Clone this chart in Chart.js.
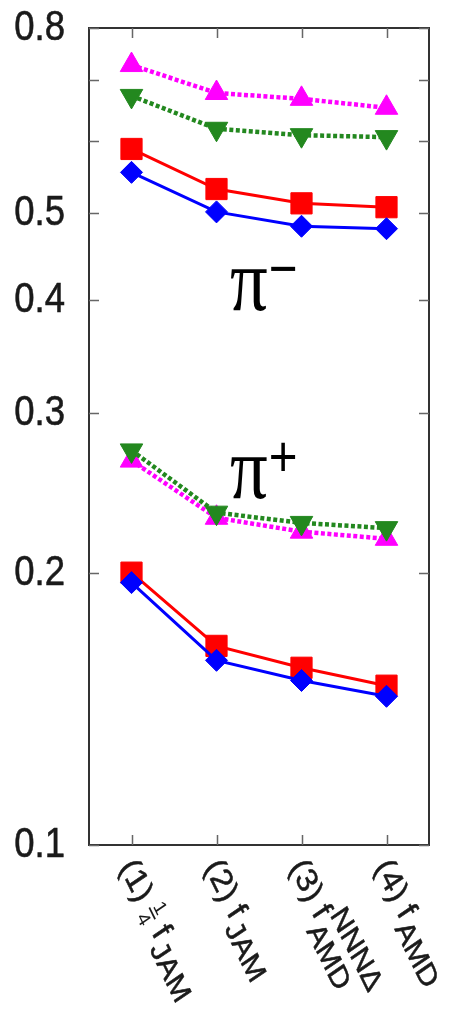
<!DOCTYPE html>
<html>
<head>
<meta charset="utf-8">
<script src="https://cdn.jsdelivr.net/npm/chart.js@4.4.0/dist/chart.umd.min.js"></script>
<style>
  html, body { margin: 0; padding: 0; background: #fff; }
  #wrap { position: relative; width: 457px; height: 1012px; }
</style>
</head>
<body>
<div id="wrap"><canvas id="chart"></canvas></div>
<script>
const categories = ['(1) 1/4 f_JAM', '(2) f_JAM', '(3) f_AMD^NNNΔ', '(4) f_AMD'];

// rich versions of the category labels (fraction, sub/superscripts)
const xTickLabels = [
  [{ t: '(1) ' }, { frac: ['1', '4'] }, { t: ' f' }, { sub: 'JAM' }],
  [{ t: '(2) f' }, { sub: 'JAM' }],
  [{ t: '(3) f' }, { sup: 'NNNΔ', sub: 'AMD' }],
  [{ t: '(4) f' }, { sub: 'AMD' }],
];

const yTicks = [0.1, 0.2, 0.3, 0.4, 0.5, 0.6, 0.7, 0.8];
const yTickLabels = ['0.1', '0.2', '0.3', '0.4', '0.5', '', '', '0.8'];

// pi-minus
const piMinusMagenta = [0.728, 0.678, 0.668, 0.653];
const piMinusGreen = [0.673, 0.619, 0.609, 0.606];
const piMinusRed = [0.588, 0.531, 0.512, 0.507];
const piMinusBlue = [0.554, 0.501, 0.483, 0.480];
// pi-plus
const piPlusGreen = [0.273, 0.233, 0.227, 0.224];
const piPlusMagenta = [0.266, 0.230, 0.222, 0.218];
const piPlusRed = [0.200, 0.166, 0.157, 0.150];
const piPlusBlue = [0.195, 0.160, 0.152, 0.146];

// in-plot particle labels, anchored in data units (category index, value)
const particleLabels = [
  { sym: 'π', sup: '−', cat: 1.16, value: 0.390 },
  { sym: 'π', sup: '+', cat: 1.16, value: 0.2418 },
];

const MAGENTA = '#ff00ff';
const GREEN = '#23881f';
const RED = '#ff0000';
const BLUE = '#0000ff';
const SANS = '"Liberation Sans", Arial, Helvetica, sans-serif';
const SERIF = '"Liberation Serif", "Times New Roman", serif';
const SQUASH = 0.85;

function dashed(data, color, style, rotation) {
  return {
    data,
    borderColor: color,
    backgroundColor: color,
    borderWidth: 4.5,
    borderDash: [4, 2.5],
    pointStyle: style,
    pointRotation: rotation || 0,
    pointRadius: 13,
    pointBackgroundColor: color,
    pointBorderColor: color,
    pointBorderWidth: 1,
    fill: false,
    tension: 0,
  };
}

function solid(data, color, style, radius) {
  return {
    data,
    borderColor: color,
    backgroundColor: color,
    borderWidth: 3,
    pointStyle: style,
    pointRadius: radius,
    pointBackgroundColor: color,
    pointBorderColor: color,
    pointBorderWidth: 1,
    fill: false,
    tension: 0,
  };
}

function drawRich(ctx, parts, fs) {
  let cx = 0;
  const base = fs * 0.36;
  for (const p of parts) {
    if (p.t) {
      ctx.font = `${fs}px ${SANS}`;
      ctx.fillText(p.t, cx, base);
      ctx.strokeText(p.t, cx, base);
      cx += ctx.measureText(p.t).width;
    } else if (p.frac) {
      const f = Math.round(fs * 0.6);
      ctx.font = `${f}px ${SANS}`;
      const w = Math.max(...p.frac.map((s) => ctx.measureText(s).width)) + 2;
      ctx.fillText(p.frac[0], cx + (w - ctx.measureText(p.frac[0]).width) / 2, base - fs * 0.42);
      ctx.fillText(p.frac[1], cx + (w - ctx.measureText(p.frac[1]).width) / 2, base + fs * 0.22);
      ctx.fillRect(cx, base - fs * 0.33, w, 2);
      cx += w;
    } else {
      const f = Math.round(fs * 0.9);
      ctx.font = `${f}px ${SANS}`;
      let w = 0;
      const gap = 3;
      if (p.sup) {
        ctx.fillText(p.sup, cx + gap, base - fs * 0.5);
        ctx.strokeText(p.sup, cx + gap, base - fs * 0.5);
        w = Math.max(w, ctx.measureText(p.sup).width);
      }
      if (p.sub) {
        const sy = base + fs * (p.sup ? 0.42 : 0.3);
        ctx.fillText(p.sub, cx + gap, sy);
        ctx.strokeText(p.sub, cx + gap, sy);
        w = Math.max(w, ctx.measureText(p.sub).width);
      }
      cx += w + gap;
    }
  }
}

const framePlugin = {
  id: 'frame',
  afterDraw(chart) {
    const { ctx, chartArea: a, scales: { x, y } } = chart;
    ctx.save();

    // frame
    ctx.strokeStyle = '#333';
    ctx.lineWidth = 2;
    ctx.strokeRect(a.left, a.top, a.right - a.left, a.bottom - a.top);

    // inward ticks
    ctx.strokeStyle = '#666';
    ctx.lineWidth = 1.5;
    const tl = 10;
    ctx.beginPath();
    yTicks.forEach((v) => {
      const py = Math.round(y.getPixelForValue(v)) + 0.5;
      ctx.moveTo(a.left, py); ctx.lineTo(a.left + tl, py);
      ctx.moveTo(a.right, py); ctx.lineTo(a.right - tl, py);
    });
    categories.forEach((_, i) => {
      const px = Math.round(x.getPixelForValue(i)) + 0.5;
      ctx.moveTo(px, a.bottom); ctx.lineTo(px, a.bottom - tl);
      ctx.moveTo(px, a.top); ctx.lineTo(px, a.top + tl);
    });
    ctx.stroke();

    ctx.fillStyle = '#1a1a1a';
    ctx.strokeStyle = '#1a1a1a';
    ctx.lineWidth = 0.6;

    // y labels
    ctx.textAlign = 'right';
    ctx.textBaseline = 'middle';
    ctx.font = `43px ${SANS}`;
    yTicks.forEach((v, i) => {
      if (!yTickLabels[i]) return;
      ctx.save();
      ctx.translate(a.left - 24, y.getPixelForValue(v));
      ctx.scale(SQUASH, 1);
      ctx.fillText(yTickLabels[i], 0, 0);
      ctx.strokeText(yTickLabels[i], 0, 0);
      ctx.restore();
    });

    // x labels, rotated clockwise
    ctx.textAlign = 'left';
    ctx.textBaseline = 'alphabetic';
    xTickLabels.forEach((parts, i) => {
      ctx.save();
      ctx.translate(x.getPixelForValue(i) - 3, a.bottom + 16);
      ctx.scale(SQUASH, 1);
      ctx.rotate(Math.PI / 3);
      drawRich(ctx, parts, 35);
      ctx.restore();
    });

    // particle labels
    ctx.fillStyle = '#000';
    particleLabels.forEach((l) => {
      ctx.save();
      ctx.translate(x.getPixelForValue(l.cat), y.getPixelForValue(l.value));
      ctx.scale(SQUASH, 1);
      ctx.font = `88px ${SERIF}`;
      ctx.fillText(l.sym, 0, 0);
      const w = ctx.measureText(l.sym).width;
      ctx.font = `58px ${SANS}`;
      ctx.fillText(l.sup, w + 1, -22);
      ctx.restore();
    });

    ctx.restore();
  },
};

new Chart(document.getElementById('chart'), {
  type: 'line',
  data: {
    labels: categories,
    datasets: [
      dashed(piMinusGreen, GREEN, 'triangle', 180),
      dashed(piMinusMagenta, MAGENTA, 'triangle'),
      solid(piMinusBlue, BLUE, 'rectRot', 11),
      solid(piMinusRed, RED, 'rect', 15),
      dashed(piPlusGreen, GREEN, 'triangle', 180),
      dashed(piPlusMagenta, MAGENTA, 'triangle'),
      solid(piPlusBlue, BLUE, 'rectRot', 11),
      solid(piPlusRed, RED, 'rect', 15),
    ],
  },
  options: {
    responsive: true,
    maintainAspectRatio: false,
    animation: false,
    layout: { padding: { left: 89, right: 28, top: 28, bottom: 167 } },
    plugins: { legend: { display: false }, tooltip: { enabled: false } },
    scales: {
      x: { type: 'category', display: false, offset: true },
      y: { type: 'logarithmic', display: false, min: 0.1, max: 0.8, bounds: 'data' },
    },
  },
  plugins: [framePlugin],
});
</script>
</body>
</html>
